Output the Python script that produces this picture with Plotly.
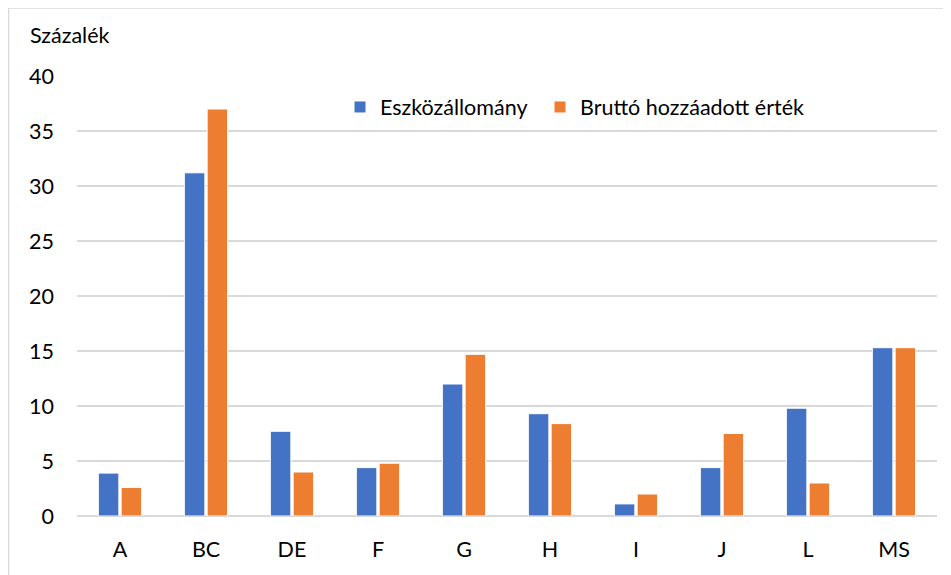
import plotly.graph_objects as go

categories = ["A", "BC", "DE", "F", "G", "H", "I", "J", "L", "MS"]
eszkoz = [3.9, 31.2, 7.7, 4.4, 12.0, 9.3, 1.1, 4.4, 9.8, 15.3]
brutto = [2.6, 37.0, 4.0, 4.8, 14.7, 8.4, 2.0, 7.5, 3.0, 15.3]
series_names = ["Eszközállomány", "Bruttó hozzáadott érték"]
y_ticks = [0, 5, 10, 15, 20, 25, 30, 35, 40]

OFF = 8  # page body margin
W, H = 951 - OFF, 575 - OFF
L, T = 77 - OFF, 76 - OFF
pw, ph = 860, 440
R, B = W - L - pw, H - T - ph

def px_x(x):
    return (x - OFF - L) / pw

def px_y(y):
    return (T + ph - (y - OFF)) / ph

FONT = "Lato"
FS = 21.5

fig = go.Figure()
fig.add_trace(go.Bar(x=categories, y=eszkoz, name=series_names[0], legend="legend",
                     marker=dict(color="#4472C4", line=dict(color="white", width=1))))
fig.add_trace(go.Bar(x=categories, y=brutto, name=series_names[1], legend="legend2",
                     marker=dict(color="#ED7D31", line=dict(color="white", width=1))))

leg_common = dict(orientation="h", yanchor="middle", xanchor="left",
                  font=dict(family=FONT, size=FS, color="#000000"),
                  bgcolor="rgba(0,0,0,0)", itemclick=False, itemdoubleclick=False)

fig.update_layout(
    width=W, height=H,
    margin=dict(l=L, r=R, t=T, b=B, autoexpand=False),
    paper_bgcolor="white", plot_bgcolor="white",
    barmode="group", bargap=0.47, bargroupgap=0.1,
    font=dict(family=FONT, size=FS, color="#000000"),
    showlegend=True,
    legend=dict(x=px_x(340), y=px_y(107), **leg_common),
    legend2=dict(x=px_x(540), y=px_y(107), **leg_common),
    xaxis=dict(showgrid=False, showline=False, ticks="", tickfont=dict(size=FS),
               ticklabelstandoff=18),
    yaxis=dict(range=[0, 40], tickvals=y_ticks, showgrid=True, gridcolor="#D9D9D9",
               gridwidth=1.5, zeroline=True, zerolinecolor="#D9D9D9", zerolinewidth=1.5,
               ticks="", tickfont=dict(size=FS), ticklabelstandoff=22),
    annotations=[dict(text="Százalék", xref="paper", yref="paper", x=px_x(28), y=px_y(35),
                      xanchor="left", yanchor="middle", showarrow=False,
                      font=dict(family=FONT, size=FS, color="#000000"))],
    shapes=[
        dict(type="line", xref="paper", yref="paper", x0=px_x(8), x1=px_x(960),
             y0=px_y(8), y1=px_y(8), line=dict(color="#D9D9D9", width=1.5)),
        dict(type="line", xref="paper", yref="paper", x0=px_x(8.5), x1=px_x(8.5),
             y0=px_y(8), y1=px_y(580), line=dict(color="#D9D9D9", width=1.5)),
    ],
)

fig.write_html("out.html")
